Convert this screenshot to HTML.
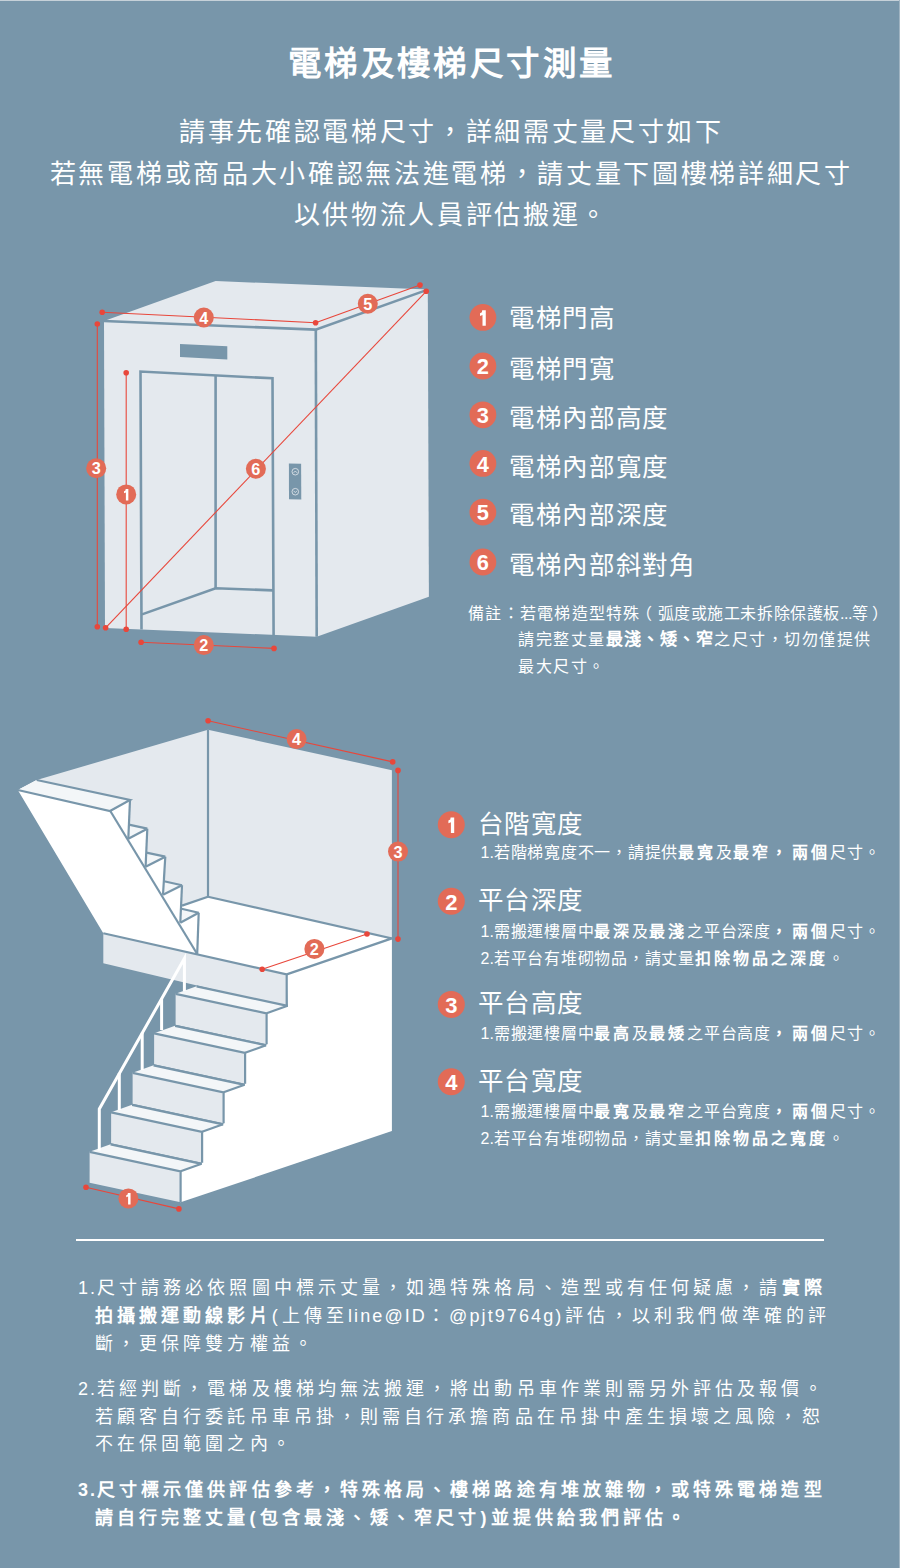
<!DOCTYPE html>
<html lang="zh-TW"><head><meta charset="utf-8">
<style>
html,body{margin:0;padding:0;}
body{width:900px;height:1568px;background:#7896aa;position:relative;overflow:hidden;font-family:"Liberation Sans",sans-serif;color:#fff;}
.t{position:absolute;white-space:nowrap;line-height:1;}
#topline{position:absolute;left:0;top:0;width:900px;height:1px;background:#c6d1d9;}
#rightline{position:absolute;left:899px;top:0;width:1px;height:1568px;background:#a0b4c2;}
#title{left:0;width:900px;text-align:center;top:46.5px;font-size:33.5px;font-weight:bold;letter-spacing:3.4px;text-indent:3.4px;}
.sub{left:0;width:900px;text-align:center;font-size:26px;letter-spacing:2.68px;text-indent:2.68px;}
.leg{font-size:25.5px;letter-spacing:0.55px;}
.badge{position:absolute;width:27px;height:27px;border-radius:50%;background:#e26b57;color:#fff;font-weight:bold;font-size:16px;line-height:27px;text-align:center;}
.note{font-size:16px;letter-spacing:1.5px;}
.note b{font-size:17px;letter-spacing:1.15px;}
.st{font-size:25.5px;letter-spacing:0.4px;}
.ss{font-size:16px;letter-spacing:0.75px;}
.ss b{letter-spacing:3.0px;}
.num{letter-spacing:0;}
.ss b.cm{letter-spacing:5.5px;}
b{font-weight:bold;}
.dots{letter-spacing:-0.5px;}
#hr{position:absolute;left:76px;top:1239px;width:748px;height:2px;background:#fff;}
.p{font-size:18px;letter-spacing:4.08px;}
.asc{letter-spacing:2.1px;}
.pn{letter-spacing:2px;}
</style></head><body>
<div id="topline"></div><div id="rightline"></div>
<div class="t" id="title">電梯及樓梯尺寸測量</div>
<div class="t sub" style="top:119px">請事先確認電梯尺寸，詳細需丈量尺寸如下</div>
<div class="t sub" style="top:160.5px">若無電梯或商品大小確認無法進電梯，請丈量下圖樓梯詳細尺寸</div>
<div class="t sub" style="top:201.5px">以供物流人員評估搬運。</div>
<svg id="diag" width="900" height="1568" style="position:absolute;left:0;top:0">
<g id="elev">
<polygon points="104,321 215.6,281 427.8,289.6 315.6,329.6" fill="#e4e9ee"/>
<polygon points="104,321 315.6,329.6 316.7,636.7 105,628" fill="#e4e9ee"/>
<polygon points="315.6,329.6 427.8,289.6 428.9,596.7 316.7,636.7" fill="#e4e9ee"/>
<g stroke="#7896aa" stroke-width="2.6" fill="none" stroke-linejoin="miter">
<polyline points="104,321 315.6,329.6 427.8,289.6"/>
<line x1="315.8" y1="329.6" x2="316.7" y2="636.7"/>
<polyline points="141.5,629.6 140.5,371.5 272.5,378.3 273.6,635.6"/>
<line x1="215.6" y1="375" x2="215.6" y2="588.5"/>
<polyline points="142,614.4 215.6,588.2 273,590.4"/>
</g>
<polygon points="180,344 227.3,346.3 227.3,359.5 180,357" fill="#7896aa"/>
<polygon points="288.9,463.6 301.1,463.8 301.3,499.4 289,499.2" fill="#7896aa"/>
<circle cx="295.3" cy="471.7" r="3.3" fill="none" stroke="#e4e9ee" stroke-width="0.8"/><polyline points="293.6,472.8 295.3,471 297,472.8" fill="none" stroke="#e4e9ee" stroke-width="0.8"/>
<circle cx="295.3" cy="491.7" r="3.3" fill="none" stroke="#e4e9ee" stroke-width="0.8"/><polyline points="293.6,490.8 295.3,492.6 297,490.8" fill="none" stroke="#e4e9ee" stroke-width="0.8"/>
<g stroke="#e8473b" stroke-width="1.1" fill="none">
<line x1="97.3" y1="324" x2="97.3" y2="626.7"/>
<line x1="126.2" y1="372.7" x2="126.2" y2="629.3"/>
<line x1="102.2" y1="312.2" x2="315.6" y2="322.7"/>
<line x1="315.6" y1="322.7" x2="420" y2="285.1"/>
<line x1="105.6" y1="627.8" x2="426.2" y2="291.3"/>
<line x1="141.1" y1="642.2" x2="274" y2="648.4"/>
</g>
<g fill="#e8473b">
<circle cx="97.3" cy="324" r="2.8"/><circle cx="97.3" cy="626.7" r="2.8"/>
<circle cx="126.2" cy="372.7" r="2.8"/><circle cx="126.2" cy="629.3" r="2.8"/>
<circle cx="102.2" cy="312.2" r="2.8"/><circle cx="315.6" cy="322.7" r="2.8"/>
<circle cx="420" cy="285.1" r="2.8"/>
<circle cx="105.6" cy="627.8" r="2.8"/><circle cx="426.2" cy="291.3" r="2.8"/>
<circle cx="141.1" cy="642.2" r="2.8"/><circle cx="274" cy="648.4" r="2.8"/>
</g>
</g>

<g id="stairs">
<polygon points="208.0,729.8 391.9,770.2 391.9,938.4 208.0,896.8" fill="#e4e9ee"/>
<polygon points="208.0,729.8 36.7,780.0 110.0,811.0 197.0,954.0 208.0,896.8" fill="#e4e9ee"/>
<polygon points="208.0,896.8 391.9,938.4 286.7,974.4 103.3,933.3" fill="#ffffff"/>
<polygon points="17.8,790.0 36.7,780.0 130.0,800.0 128.8,824.7 147.3,828.7 146.4,852.7 165.3,856.7 164.0,881.3 182.0,885.3 181.5,908.7 198.7,912.7 197.2,954.0 103.3,933.3" fill="#ffffff"/>
<polygon points="17.8,790.0 36.7,780.0 130.0,800.0 110.0,811.0" fill="#f3f6f8"/>
<polygon points="128.8,824.7 147.3,828.7 128.3,838.7" fill="#f3f6f8"/>
<polygon points="146.4,852.7 165.3,856.7 145.6,866.7" fill="#f3f6f8"/>
<polygon points="164.0,881.3 182.0,885.3 163.0,894.7" fill="#f3f6f8"/>
<polygon points="181.5,908.7 198.7,912.7 180.3,922.7" fill="#f3f6f8"/>
<polygon points="103.3,933.3 286.7,974.4 286.7,1006.7 103.3,963.3" fill="#e4e9ee"/>
<polygon points="286.7,974.4 391.9,938.4 391.9,1131.1 180.6,1202.3 180.6,1171.3 201.6,1163.8 202.1,1162.8 202.1,1131.8 223.1,1124.3 223.6,1123.3 223.6,1092.3 244.6,1084.8 245.1,1083.8 245.1,1052.8 266.1,1045.3 266.6,1044.3 266.6,1013.3 287.6,1005.8" fill="#ffffff"/>
<polygon points="175.6,993.8 266.6,1013.3 266.6,1044.3 175.6,1024.8" fill="#e4e9ee"/>
<polygon points="175.6,993.8 266.6,1013.3 287.6,1005.8 196.6,986.3" fill="#f3f6f8"/>
<polygon points="154.1,1033.3 245.1,1052.8 245.1,1083.8 154.1,1064.3" fill="#e4e9ee"/>
<polygon points="154.1,1033.3 245.1,1052.8 266.1,1045.3 175.1,1025.8" fill="#f3f6f8"/>
<polygon points="132.6,1072.8 223.6,1092.3 223.6,1123.3 132.6,1103.8" fill="#e4e9ee"/>
<polygon points="132.6,1072.8 223.6,1092.3 244.6,1084.8 153.6,1065.3" fill="#f3f6f8"/>
<polygon points="111.1,1112.3 202.1,1131.8 202.1,1162.8 111.1,1143.3" fill="#e4e9ee"/>
<polygon points="111.1,1112.3 202.1,1131.8 223.1,1124.3 132.1,1104.8" fill="#f3f6f8"/>
<polygon points="89.6,1151.8 180.6,1171.3 180.6,1202.3 89.6,1182.8" fill="#e4e9ee"/>
<polygon points="89.6,1151.8 180.6,1171.3 201.6,1163.8 110.6,1144.3" fill="#f3f6f8"/>
<g stroke="#7896aa" stroke-width="2.2" fill="none" stroke-linejoin="miter" stroke-linecap="butt"><polyline points="208.0,729.8 208.0,896.8"/><polyline points="208.0,896.8 391.9,938.4 286.7,974.4"/><polyline points="208.0,896.8 182.0,905.6"/><polyline points="103.3,933.3 286.7,974.4 286.7,1006.7"/><polyline points="36.7,780.0 130.0,800.0 110.0,811.0 17.8,790.0"/><polyline points="110.0,810.5 197.2,954.0"/><polyline points="130.0,800.0 128.3,838.7"/><polyline points="147.3,828.7 145.6,866.7"/><polyline points="165.3,856.7 163.0,894.7"/><polyline points="182.0,885.3 180.3,922.7"/><polyline points="198.7,912.7 197.2,954.0"/><polyline points="128.8,824.7 147.3,828.7"/><polyline points="128.3,838.7 147.3,828.7"/><polyline points="146.4,852.7 165.3,856.7"/><polyline points="145.6,866.7 165.3,856.7"/><polyline points="164.0,881.3 182.0,885.3"/><polyline points="163.0,894.7 182.0,885.3"/><polyline points="181.5,908.7 198.7,912.7"/><polyline points="180.3,922.7 198.7,912.7"/><polyline points="89.6,1151.8 180.6,1171.3 180.6,1202.3"/><polyline points="180.6,1171.3 201.6,1163.8"/><polyline points="110.6,1144.3 201.6,1163.8"/><polyline points="111.1,1112.3 202.1,1131.8 202.1,1162.8"/><polyline points="202.1,1131.8 223.1,1124.3"/><polyline points="132.1,1104.8 223.1,1124.3"/><polyline points="132.6,1072.8 223.6,1092.3 223.6,1123.3"/><polyline points="223.6,1092.3 244.6,1084.8"/><polyline points="153.6,1065.3 244.6,1084.8"/><polyline points="154.1,1033.3 245.1,1052.8 245.1,1083.8"/><polyline points="245.1,1052.8 266.1,1045.3"/><polyline points="175.1,1025.8 266.1,1045.3"/><polyline points="175.6,993.8 266.6,1013.3 266.6,1044.3"/><polyline points="266.6,1013.3 287.6,1005.8"/><polyline points="196.6,986.3 287.6,1005.8"/></g>
<g stroke="#fff" stroke-width="3" fill="none" stroke-linejoin="miter"><polyline points="99.3,1150.5 99.3,1108.9 184.4,958.5 184.4,991.0"/><line x1="119.3" y1="1073.0" x2="119.3" y2="1110"/><line x1="142.2" y1="1032.7" x2="142.2" y2="1070"/><line x1="161.6" y1="998.6" x2="161.6" y2="1030"/></g>
<g stroke="#e8473b" stroke-width="1.1"><line x1="208.1" y1="720.8" x2="392.7" y2="761.9"/><line x1="398" y1="770.4" x2="398" y2="939.1"/><line x1="262.2" y1="969.3" x2="367" y2="934"/><line x1="86" y1="1187.3" x2="178.9" y2="1208.9"/></g>
<g fill="#e8473b"><circle cx="208.1" cy="720.8" r="2.8"/><circle cx="392.7" cy="761.9" r="2.8"/><circle cx="398" cy="770.4" r="2.8"/><circle cx="398" cy="939.1" r="2.8"/><circle cx="262.2" cy="969.3" r="2.8"/><circle cx="367" cy="934" r="2.8"/><circle cx="86" cy="1187.3" r="2.8"/><circle cx="178.9" cy="1208.9" r="2.8"/></g>
</g>
<g id="badges"><circle cx="482.9" cy="317.4" r="13.4" fill="#e26b57"/><polygon fill="#fff" points="482.21,310.25 485.78,310.25 485.78,325.64 482.50,325.64 482.50,315.02 480.02,316.01 480.02,313.13 481.91,312.14"/><circle cx="482.9" cy="366.0" r="13.4" fill="#e26b57"/><text x="482.9" y="374.24" fill="#fff" font-family="Liberation Sans, sans-serif" font-weight="bold" font-size="21.84" text-anchor="middle">2</text><circle cx="482.9" cy="414.8" r="13.4" fill="#e26b57"/><text x="482.9" y="422.99" fill="#fff" font-family="Liberation Sans, sans-serif" font-weight="bold" font-size="21.84" text-anchor="middle">3</text><circle cx="482.9" cy="463.4" r="13.4" fill="#e26b57"/><text x="482.9" y="471.64" fill="#fff" font-family="Liberation Sans, sans-serif" font-weight="bold" font-size="21.84" text-anchor="middle">4</text><circle cx="482.9" cy="512.1" r="13.4" fill="#e26b57"/><text x="482.9" y="520.34" fill="#fff" font-family="Liberation Sans, sans-serif" font-weight="bold" font-size="21.84" text-anchor="middle">5</text><circle cx="482.9" cy="562.0" r="13.4" fill="#e26b57"/><text x="482.9" y="570.24" fill="#fff" font-family="Liberation Sans, sans-serif" font-weight="bold" font-size="21.84" text-anchor="middle">6</text><circle cx="451.3" cy="824.7" r="13.5" fill="#e26b57"/><polygon fill="#fff" points="450.60,817.50 454.20,817.50 454.20,833.00 450.90,833.00 450.90,822.30 448.40,823.30 448.40,820.40 450.30,819.40"/><circle cx="451.3" cy="901.2" r="13.5" fill="#e26b57"/><text x="451.3" y="909.50" fill="#fff" font-family="Liberation Sans, sans-serif" font-weight="bold" font-size="22.00" text-anchor="middle">2</text><circle cx="451.3" cy="1004.4" r="13.5" fill="#e26b57"/><text x="451.3" y="1012.70" fill="#fff" font-family="Liberation Sans, sans-serif" font-weight="bold" font-size="22.00" text-anchor="middle">3</text><circle cx="451.3" cy="1081.7" r="13.5" fill="#e26b57"/><text x="451.3" y="1090.00" fill="#fff" font-family="Liberation Sans, sans-serif" font-weight="bold" font-size="22.00" text-anchor="middle">4</text><circle cx="96.2" cy="468.2" r="10" fill="#e26b57"/><text x="96.2" y="474.35" fill="#fff" font-family="Liberation Sans, sans-serif" font-weight="bold" font-size="16.30" text-anchor="middle">3</text><circle cx="126.2" cy="494.4" r="10" fill="#e26b57"/><polygon fill="#fff" points="125.68,489.07 128.35,489.07 128.35,500.55 125.90,500.55 125.90,492.62 124.05,493.36 124.05,491.21 125.46,490.47"/><circle cx="203.8" cy="317.5" r="10" fill="#e26b57"/><text x="203.8" y="323.65" fill="#fff" font-family="Liberation Sans, sans-serif" font-weight="bold" font-size="16.30" text-anchor="middle">4</text><circle cx="367.8" cy="303.8" r="10" fill="#e26b57"/><text x="367.8" y="309.95" fill="#fff" font-family="Liberation Sans, sans-serif" font-weight="bold" font-size="16.30" text-anchor="middle">5</text><circle cx="255.9" cy="468.7" r="10" fill="#e26b57"/><text x="255.9" y="474.85" fill="#fff" font-family="Liberation Sans, sans-serif" font-weight="bold" font-size="16.30" text-anchor="middle">6</text><circle cx="203.8" cy="645.1" r="10" fill="#e26b57"/><text x="203.8" y="651.25" fill="#fff" font-family="Liberation Sans, sans-serif" font-weight="bold" font-size="16.30" text-anchor="middle">2</text><circle cx="296.6" cy="739.1" r="10" fill="#e26b57"/><text x="296.6" y="745.25" fill="#fff" font-family="Liberation Sans, sans-serif" font-weight="bold" font-size="16.30" text-anchor="middle">4</text><circle cx="398.0" cy="851.6" r="10" fill="#e26b57"/><text x="398.0" y="857.75" fill="#fff" font-family="Liberation Sans, sans-serif" font-weight="bold" font-size="16.30" text-anchor="middle">3</text><circle cx="314.4" cy="948.9" r="10" fill="#e26b57"/><text x="314.4" y="955.05" fill="#fff" font-family="Liberation Sans, sans-serif" font-weight="bold" font-size="16.30" text-anchor="middle">2</text><circle cx="128.4" cy="1198.4" r="10" fill="#e26b57"/><polygon fill="#fff" points="127.88,1193.07 130.55,1193.07 130.55,1204.55 128.10,1204.55 128.10,1196.62 126.25,1197.36 126.25,1195.21 127.66,1194.47"/></g>
</svg>
<div class="t leg" style="left:509.4px;top:306.0px">電梯門高</div>
<div class="t leg" style="left:509.4px;top:357.3px">電梯門寬</div>
<div class="t leg" style="left:509.4px;top:406.0px">電梯內部高度</div>
<div class="t leg" style="left:509.4px;top:455.0px">電梯內部寬度</div>
<div class="t leg" style="left:509.4px;top:503.0px">電梯內部深度</div>
<div class="t leg" style="left:509.4px;top:553.4px">電梯內部斜對角</div>
<div class="t note" style="left:468px;top:605.5px;letter-spacing:1.25px">備註：若電梯造型特殊<span style="margin-left:-5px;letter-spacing:6px">（</span><span style="letter-spacing:0.6px">弧度或施工未拆除保護板</span><span class="dots">...</span><span style="letter-spacing:4.5px">等</span>）</div>
<div class="t note" style="left:518px;top:631px">請完整丈量<b>最淺、矮、窄</b>之尺寸，切勿僅提供</div>
<div class="t note" style="left:518px;top:659px">最大尺寸。</div>
<div class="t st" style="left:478px;top:811.7px">台階寬度</div>
<div class="t ss" style="left:480.5px;top:844.7px"><span class="num">1.</span>若階梯寬度不一，請提供<b>最寬</b>及<b>最窄</b><b class="cm">，</b><b>兩個</b>尺寸。</div>
<div class="t st" style="left:478px;top:888.2px">平台深度</div>
<div class="t ss" style="left:480.5px;top:924.0px"><span class="num">1.</span>需搬運樓層中<b>最深</b>及<b>最淺</b>之平台深度<b class="cm">，</b><b>兩個</b>尺寸。</div>
<div class="t ss" style="left:480.5px;top:951.0px"><span class="num">2.</span>若平台有堆砌物品，請丈量<b>扣除物品之深度</b>。</div>
<div class="t st" style="left:478px;top:991.4px">平台高度</div>
<div class="t ss" style="left:480.5px;top:1026.4px"><span class="num">1.</span>需搬運樓層中<b>最高</b>及<b>最矮</b>之平台高度<b class="cm">，</b><b>兩個</b>尺寸。</div>
<div class="t st" style="left:478px;top:1068.7px">平台寬度</div>
<div class="t ss" style="left:480.5px;top:1103.7px"><span class="num">1.</span>需搬運樓層中<b>最寬</b>及<b>最窄</b>之平台寬度<b class="cm">，</b><b>兩個</b>尺寸。</div>
<div class="t ss" style="left:480.5px;top:1130.7px"><span class="num">2.</span>若平台有堆砌物品，請丈量<b>扣除物品之寬度</b>。</div>
<div id="hr"></div>
<div class="t p" style="left:78px;top:1278.8px"><span class="pn">1.</span>尺寸請務必依照圖中標示丈量，如遇特殊格局、造型或有任何疑慮，請<b>實際</b></div>
<div class="t p" style="left:95px;top:1307px"><b>拍攝搬運動線影片</b>(上傳至<span class="asc">line@ID</span>：<span class="asc">@pjt9764g</span>)評估，以利我們做準確的評</div>
<div class="t p" style="left:95px;top:1334.7px">斷，更保障雙方權益。</div>
<div class="t p" style="left:78px;top:1380px"><span class="pn">2.</span>若經判斷，電梯及樓梯均無法搬運，將出動吊車作業則需另外評估及報價。</div>
<div class="t p" style="left:95px;top:1408px">若顧客自行委託吊車吊掛，則需自行承擔商品在吊掛中產生損壞之風險，恕</div>
<div class="t p" style="left:95px;top:1434.6px">不在保固範圍之內。</div>
<div class="t p" style="left:78px;top:1480.7px;font-weight:bold"><span class="pn">3.</span>尺寸標示僅供評估參考，特殊格局、樓梯路途有堆放雜物，或特殊電梯造型</div>
<div class="t p" style="left:95px;top:1508.8px;font-weight:bold">請自行完整丈量(包含最淺、矮、窄尺寸)並提供給我們評估。</div>
</body></html>
